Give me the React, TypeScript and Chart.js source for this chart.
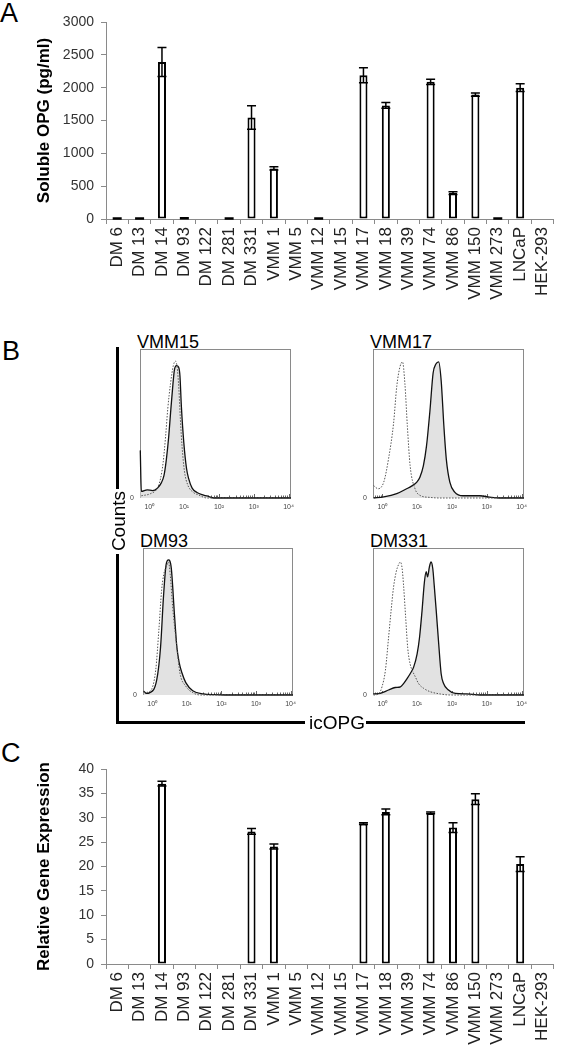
import React, { useEffect, useRef } from 'react';
import { Chart, registerables } from 'chart.js';

Chart.register(...registerables);

const FONT = '"Liberation Sans", Arial, Helvetica, sans-serif';

// ---------- Panels A & C data ----------
const CELL_LINES = ['DM 6', 'DM 13', 'DM 14', 'DM 93', 'DM 122', 'DM 281', 'DM 331', 'VMM 1', 'VMM 5', 'VMM 12', 'VMM 15', 'VMM 17', 'VMM 18', 'VMM 39', 'VMM 74', 'VMM 86', 'VMM 150', 'VMM 273', 'LNCaP', 'HEK-293'];
const SOLUBLE_OPG = [8, 8, 2390, 12, null, 8, 1545, 770, null, 8, null, 2190, 1730, null, 2090, 395, 1895, 8, 2000, null];
const SOLUBLE_OPG_ERR = [8, 8, 220, 8, 0, 8, 180, 25, 0, 8, 0, 115, 45, 0, 40, 20, 25, 8, 60, 0];
const SOLUBLE_OPG_AXIS = { max: 3000, step: 500 };
const GENE_EXPR = [null, null, 37.0, null, null, null, 27.2, 24.1, null, null, null, 28.8, 31.2, null, 31.0, 28.0, 33.8, null, 20.5, null];
const GENE_EXPR_ERR = [0, 0, 0.5, 0, 0, 0, 0.6, 0.5, 0, 0, 0, 0.2, 0.6, 0, 0.2, 1.0, 1.1, 0, 1.5, 0];
const GENE_EXPR_AXIS = { max: 40, step: 5 };

// ---------- Panel B data: [icOPG fluorescence, % of max counts] ----------
const FLOW_DECADES = [1, 10, 100, 1000, 10000];
const FLOW_RANGE = { min: 0.54, max: 11750 };
const VMM15_ISOTYPE = [[0.59, 1.5], [1.1, 3], [1.7, 6.6], [2.1, 13], [2.5, 24], [2.95, 42], [3.39, 60], [4.07, 77], [4.9, 89], [5.6, 92], [6.3, 88], [7.07, 73], [7.8, 53], [8.7, 35], [10.2, 18], [12.6, 9], [17, 4.4], [26.3, 2], [45, 0], [11750, 0]];
const VMM15_OPG = [[0.55, 32], [0.59, 4.4], [0.87, 5.5], [1.23, 5], [1.7, 6.6], [2.19, 10], [2.63, 15], [3.09, 26], [3.63, 42], [4.07, 57], [4.79, 77], [5.25, 86], [6.03, 89], [6.92, 88], [7.59, 82], [8.32, 62], [9.77, 37.5], [11.7, 20], [13.5, 13], [17, 6.6], [23.4, 3.7], [36.3, 2], [51.3, 1], [70.8, 0], [11750, 0]];
const VMM17_ISOTYPE = [[0.56, 8.4], [0.76, 6.2], [1.1, 10.7], [1.5, 26], [2.1, 50], [2.6, 75], [3.2, 88], [3.8, 91.5], [4.45, 77], [5.25, 48], [6.3, 21.6], [8.7, 6.2], [12, 1.8], [23.5, 0.4], [44, 0], [11750, 0]];
const VMM17_OPG = [[0.56, 0], [1.1, 0.7], [2.6, 2.9], [5, 6.2], [6.9, 8], [9.8, 10.7], [12, 14], [15.1, 21.6], [18.6, 35], [23.4, 59], [28.8, 84], [34.6, 90], [41.6, 91.5], [49, 79], [58.8, 48], [69, 26], [87, 10.7], [120, 4], [208, 1.5], [630, 1.5], [1200, 0.6], [2340, 0], [11750, 0]];
const DM93_ISOTYPE = [[0.56, 1.6], [0.87, 2.7], [1.26, 17], [1.55, 44], [1.86, 71], [2.14, 82], [2.51, 87], [2.95, 90.5], [3.31, 82], [3.89, 60], [5.13, 33], [6.31, 15], [9.33, 6], [14.8, 1.6], [25, 0], [11750, 0]];
const DM93_OPG = [[0.56, 2.7], [0.68, 1.1], [0.85, 1.6], [1.35, 10.4], [1.74, 32.7], [2.1, 66], [2.51, 88.7], [2.95, 92], [3.55, 86.4], [4.37, 55.3], [5.13, 33], [6.03, 21.8], [7.24, 15], [9.33, 8.4], [14.8, 2.9], [30.2, 0.7], [61.7, 0.2], [126, 0], [11750, 0]];
const DM331_ISOTYPE = [[0.56, 0], [0.78, 0.7], [0.98, 5.6], [1.23, 17], [1.51, 39], [1.78, 57], [2.09, 73], [2.51, 84], [2.95, 89], [3.31, 90.6], [3.72, 86], [4.07, 75], [4.68, 53], [5.37, 32], [6.31, 21], [7.59, 15.7], [8.91, 12.3], [11, 7.8], [15.5, 4.5], [24, 2.2], [46.8, 0.7], [89, 0], [11750, 0]];
const DM331_OPG = [[0.55, 0.7], [0.87, 1.1], [1.51, 3.4], [2.34, 5.1], [3.31, 5.6], [4.07, 7.8], [5.13, 11.2], [6.31, 14.5], [7.94, 19], [10, 28], [11.7, 39], [13.8, 57], [16.2, 77], [18.2, 84], [20, 80.5], [22.4, 87], [25.1, 90.6], [28.2, 86], [30.9, 75], [35.5, 57], [41.7, 34.7], [49, 14.5], [57.5, 7.8], [75.9, 3.8], [126, 1.1], [269, 0.7], [661, 0], [11750, 0]];

type Box = { left: number; top: number; width: number; height: number };

const errorBarPlugin = {
  id: 'errorBars',
  afterDatasetsDraw(chart: any, _args: any, opts: any) {
    const errs: number[] = opts && opts.errors;
    if (!errs) return;
    const meta = chart.getDatasetMeta(0);
    const ys = chart.scales.y;
    const vals = chart.data.datasets[0].data;
    const ctx = chart.ctx;
    ctx.save();
    ctx.strokeStyle = '#000';
    ctx.lineWidth = 1.5;
    meta.data.forEach((bar: any, i: number) => {
      const v = vals[i];
      const e = errs[i];
      if (v == null || !e) return;
      const x = bar.x;
      const y1 = ys.getPixelForValue(v + e);
      const y2 = ys.getPixelForValue(Math.max(0, v - e));
      ctx.beginPath();
      ctx.moveTo(x, y1); ctx.lineTo(x, y2);
      ctx.moveTo(x - 4.5, y1); ctx.lineTo(x + 4.5, y1);
      ctx.moveTo(x - 4.5, y2); ctx.lineTo(x + 4.5, y2);
      ctx.stroke();
    });
    ctx.restore();
  },
};

const flowFramePlugin = {
  id: 'flowFrame',
  beforeDatasetsDraw(chart: any) {
    const { ctx, chartArea } = chart;
    const xs = chart.scales.x;
    ctx.save();
    ctx.strokeStyle = '#8a8a8a';
    ctx.lineWidth = 1;
    ctx.strokeRect(Math.round(chartArea.left) + 0.5, Math.round(chartArea.top) + 0.5, Math.round(chartArea.right - chartArea.left) - 1, Math.round(chartArea.bottom - chartArea.top) - 1);
    ctx.strokeStyle = '#666';
    ctx.beginPath();
    for (let k = -1; k <= 3; k++) {
      for (let m = 1; m <= 9; m++) {
        const v = m * Math.pow(10, k);
        if (v < xs.min || v > xs.max) continue;
        const px = Math.round(xs.getPixelForValue(v)) + 0.5;
        const len = m === 1 ? 4 : 2.5;
        ctx.moveTo(px, chartArea.bottom);
        ctx.lineTo(px, chartArea.bottom - len);
      }
    }
    const p4 = Math.round(xs.getPixelForValue(10000)) + 0.5;
    ctx.moveTo(p4, chartArea.bottom);
    ctx.lineTo(p4, chartArea.bottom - 4);
    ctx.stroke();
    ctx.restore();
  },
};

function ChartCanvas({ left, top, width, height, makeConfig }: { left: number; top: number; width: number; height: number; makeConfig: () => any }) {
  const ref = useRef<HTMLCanvasElement>(null);
  useEffect(() => {
    const chart = new Chart(ref.current as HTMLCanvasElement, makeConfig());
    return () => chart.destroy();
  }, []);
  return <canvas ref={ref} width={width} height={height} style={{ position: 'absolute', left, top, width, height }} />;
}

function barConfig(values: (number | null)[], errors: number[], axis: { max: number; step: number }, title: string, padTop: number, xHeight: number) {
  return {
    type: 'bar',
    data: {
      labels: CELL_LINES,
      datasets: [{
        data: values,
        backgroundColor: '#ffffff',
        borderColor: '#000000',
        borderWidth: 2,
        borderSkipped: false,
        categoryPercentage: 1,
        barPercentage: 0.36,
      }],
    },
    options: {
      animation: false,
      responsive: false,
      maintainAspectRatio: false,
      events: [],
      layout: { padding: { top: padTop, right: 2, left: 0, bottom: 0 } },
      plugins: { legend: { display: false }, tooltip: { enabled: false }, errorBars: { errors } },
      scales: {
        x: {
          grid: { drawOnChartArea: false, drawTicks: true, tickLength: 5, color: '#8a8a8a', offset: true },
          border: { color: '#8a8a8a', width: 1 },
          ticks: { autoSkip: false, minRotation: 90, maxRotation: 90, font: { family: FONT, size: 17 }, color: '#222', padding: 3 },
          afterFit: (s: any) => { s.height = xHeight; },
        },
        y: {
          min: 0,
          max: axis.max,
          ticks: { stepSize: axis.step, font: { family: FONT, size: 14 }, color: '#333', padding: 7, callback: (v: any) => String(v) },
          grid: { drawOnChartArea: false, drawTicks: true, tickLength: 5, color: '#8a8a8a' },
          border: { color: '#8a8a8a', width: 1 },
          title: { display: true, text: title, font: { family: FONT, size: 17, weight: 'bold' }, color: '#000', padding: { top: 34, bottom: 0 } },
          afterFit: (s: any) => { s.width = 106; },
        },
      },
    },
    plugins: [errorBarPlugin],
  };
}

const SUP = ['⁰', '¹', '²', '³', '⁴'];

function flowConfig(isotype: number[][], stained: number[][]) {
  return {
    type: 'line',
    data: {
      datasets: [
        {
          data: isotype.map(([x, y]) => ({ x, y })),
          borderColor: '#555',
          borderWidth: 1,
          borderDash: [1.5, 1.5],
          pointRadius: 0,
          fill: false,
          cubicInterpolationMode: 'monotone',
          clip: 3,
        },
        {
          data: stained.map(([x, y]) => ({ x, y })),
          borderColor: '#111',
          borderWidth: 1.3,
          backgroundColor: '#e2e2e2',
          fill: 'origin',
          pointRadius: 0,
          cubicInterpolationMode: 'monotone',
          clip: 3,
        },
      ],
    },
    options: {
      animation: false,
      responsive: false,
      maintainAspectRatio: false,
      events: [],
      layout: { padding: { top: 8, right: 10, left: 0, bottom: 0 } },
      plugins: { legend: { display: false }, tooltip: { enabled: false } },
      scales: {
        x: {
          type: 'logarithmic',
          min: FLOW_RANGE.min,
          max: FLOW_RANGE.max,
          grid: { display: false, drawTicks: false },
          border: { display: false },
          afterBuildTicks: (s: any) => { s.ticks = FLOW_DECADES.map((v) => ({ value: v, major: true })); },
          ticks: {
            autoSkip: false, maxRotation: 0, minRotation: 0, padding: 5,
            font: { family: FONT, size: 7 }, color: '#444',
            callback: (v: any) => '10' + SUP[Math.round(Math.log10(Number(v)))],
          },
          afterFit: (s: any) => { s.height = 16; },
        },
        y: {
          min: 0,
          max: 100,
          grid: { display: false, drawTicks: false },
          border: { display: false },
          afterBuildTicks: (s: any) => { s.ticks = [{ value: 0 }]; },
          ticks: { font: { family: FONT, size: 7 }, color: '#444', padding: 6, callback: () => '0' },
          afterFit: (s: any) => { s.width = 22; },
        },
      },
    },
    plugins: [flowFramePlugin],
  };
}

function FlowPanel({ box, title, isotype, stained }: { box: Box; title: string; isotype: number[][]; stained: number[][] }) {
  return (
    <>
      <div style={{ position: 'absolute', left: box.left - 3, top: box.top - 14, font: `18px ${FONT}`, lineHeight: '1', color: '#000', whiteSpace: 'nowrap' }}>{title}</div>
      <ChartCanvas left={box.left - 22} top={box.top - 8} width={box.width + 32} height={box.height + 24} makeConfig={() => flowConfig(isotype, stained)} />
    </>
  );
}

const letterStyle = (left: number, top: number): React.CSSProperties => ({ position: 'absolute', left, top, font: `27px ${FONT}`, lineHeight: '1', color: '#000' });
const bar = (left: number, top: number, width: number, height: number): React.CSSProperties => ({ position: 'absolute', left, top, width, height, background: '#000' });

export default function App() {
  return (
    <div style={{ position: 'absolute', left: 0, top: 0, width: 566, height: 1050, overflow: 'hidden', background: '#fff' }}>
      {/* Panel A */}
      <div style={letterStyle(0, 0)}>A</div>
      <ChartCanvas left={0} top={0} width={566} height={330}
        makeConfig={() => barConfig(SOLUBLE_OPG, SOLUBLE_OPG_ERR, SOLUBLE_OPG_AXIS, 'Soluble OPG (pg/ml)', 22, 111)} />

      {/* Panel B */}
      <div style={letterStyle(2, 338)}>B</div>
      <FlowPanel box={{ left: 140, top: 347, width: 151, height: 151 }} title="VMM15" isotype={VMM15_ISOTYPE} stained={VMM15_OPG} />
      <FlowPanel box={{ left: 373, top: 347, width: 151, height: 151 }} title="VMM17" isotype={VMM17_ISOTYPE} stained={VMM17_OPG} />
      <FlowPanel box={{ left: 143, top: 546, width: 150, height: 149 }} title="DM93" isotype={DM93_ISOTYPE} stained={DM93_OPG} />
      <FlowPanel box={{ left: 373, top: 546, width: 151, height: 149 }} title="DM331" isotype={DM331_ISOTYPE} stained={DM331_OPG} />
      <div style={bar(116, 347, 3, 142)} />
      <div style={bar(116, 554, 3, 170)} />
      <div style={bar(116, 721, 189, 3)} />
      <div style={bar(366, 721, 159, 3)} />
      <div style={{ position: 'absolute', left: 118, top: 521, transform: 'translate(-50%, -50%) rotate(-90deg)', font: `19px ${FONT}`, lineHeight: '1', color: '#000', whiteSpace: 'nowrap' }}>Counts</div>
      <div style={{ position: 'absolute', left: 309, top: 713, font: `19px ${FONT}`, lineHeight: '1', color: '#000', whiteSpace: 'nowrap' }}>icOPG</div>

      {/* Panel C */}
      <div style={letterStyle(1, 740)}>C</div>
      <ChartCanvas left={0} top={740} width={566} height={310}
        makeConfig={() => barConfig(GENE_EXPR, GENE_EXPR_ERR, GENE_EXPR_AXIS, 'Relative Gene Expression', 29, 86)} />
    </div>
  );
}
